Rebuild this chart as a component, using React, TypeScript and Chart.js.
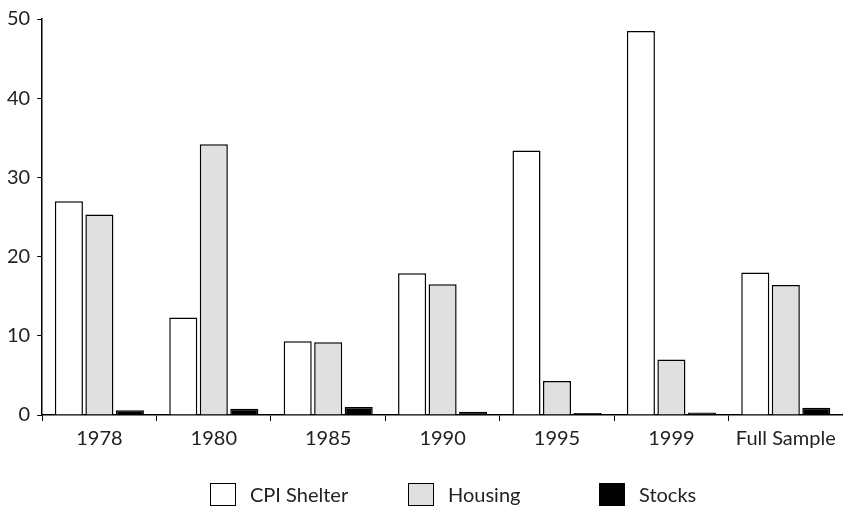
import React, { useEffect, useRef } from "react";
import { Chart, registerables } from "chart.js";

Chart.register(...registerables);

const categories = ["1978", "1980", "1985", "1990", "1995", "1999", "Full Sample"];
const cpiShelter = [27.0, 12.3, 9.3, 17.9, 33.4, 48.5, 18.0];
const housing = [25.3, 34.2, 9.2, 16.5, 4.3, 7.0, 16.4];
const stocks = [0.6, 0.8, 1.0, 0.4, 0.25, 0.3, 0.9];
const seriesNames = ["CPI Shelter", "Housing", "Stocks"];
const yTicks = [0, 10, 20, 30, 40, 50];

const FONT = "Lato";

const legendPlugin = {
  id: "customLegend",
  afterDraw(chart: any) {
    const ctx = chart.ctx;
    const positions = [210, 408, 599];
    const y = 483;
    const w = 26;
    const h = 23;
    ctx.save();
    chart.data.datasets.forEach((ds: any, i: number) => {
      const x = positions[i];
      ctx.fillStyle = ds.backgroundColor;
      ctx.fillRect(x, y, w, h);
      ctx.strokeStyle = "#000";
      ctx.lineWidth = 1;
      ctx.strokeRect(x + 0.5, y + 0.5, w - 1, h - 1);
      ctx.fillStyle = "#222";
      ctx.font = `20px ${FONT}`;
      ctx.textBaseline = "middle";
      ctx.textAlign = "left";
      ctx.fillText(ds.label, x + w + 14, y + h / 2 + 1);
    });
    ctx.restore();
  },
};

export default function App() {
  const ref = useRef<HTMLCanvasElement | null>(null);
  useEffect(() => {
    document.body.style.margin = "0";
    const chart = new Chart(ref.current!, {
      type: "bar",
      data: {
        labels: categories,
        datasets: [
          { label: seriesNames[0], data: cpiShelter, backgroundColor: "#ffffff", borderColor: "#000", borderWidth: 1.5 },
          { label: seriesNames[1], data: housing, backgroundColor: "#e0e0e0", borderColor: "#000", borderWidth: 1.5 },
          { label: seriesNames[2], data: stocks, backgroundColor: "#000000", borderColor: "#000", borderWidth: 1.5 },
        ],
      },
      options: {
        animation: false,
        responsive: false,
        layout: { padding: { top: 0, bottom: 52, left: 0, right: 0 } },
        datasets: { bar: { categoryPercentage: 0.8, barPercentage: 0.92 } },
        plugins: { legend: { display: false }, tooltip: { enabled: false } },
        scales: {
          x: {
            grid: { display: true, drawOnChartArea: false, drawTicks: true, tickLength: 6, color: "#000", offset: true },
            border: { display: true, color: "#000", width: 1.5 },
            ticks: { color: "#222", font: { family: FONT, size: 20 }, padding: 6, maxRotation: 0 },
          },
          y: {
            min: 0,
            max: 50,
            afterBuildTicks: (axis: any) => {
              axis.ticks = yTicks.map((v) => ({ value: v }));
            },
            grid: { display: true, drawOnChartArea: false, drawTicks: true, tickLength: 5, color: "#000" },
            border: { display: true, color: "#000", width: 1.5 },
            ticks: { color: "#222", font: { family: FONT, size: 20 }, padding: 7 },
          },
        },
      },
      plugins: [legendPlugin],
    });
    return () => chart.destroy();
  }, []);
  return (
    <div style={{ position: "absolute", left: 0, top: 0, width: 843, height: 509 }}>
      <canvas ref={ref} width={843} height={509} />
    </div>
  );
}
